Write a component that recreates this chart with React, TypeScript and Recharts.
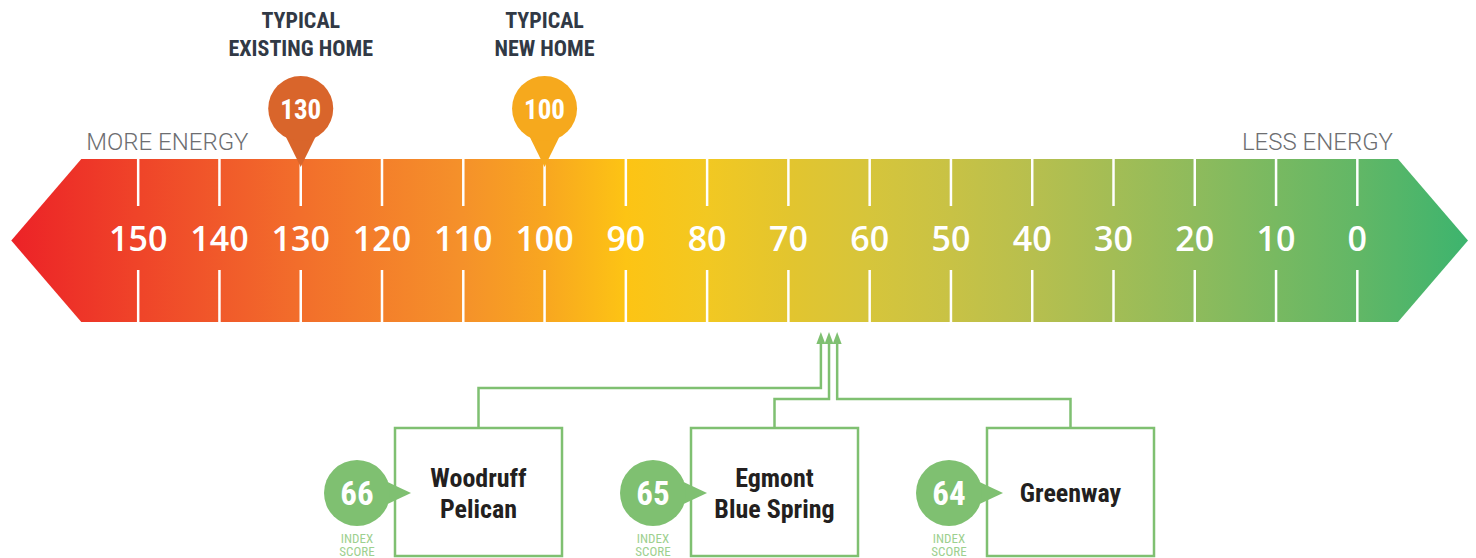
import React from 'react';
import { ComposedChart, XAxis, YAxis, Scatter, ReferenceArea } from 'recharts';

// scale values (HERS index), left = more energy
const SCALE_TICKS = [150, 140, 130, 120, 110, 100, 90, 80, 70, 60, 50, 40, 30, 20, 10, 0];

// benchmark pins above the scale
const BENCHMARK_LABELS = [['TYPICAL', 'EXISTING HOME'], ['TYPICAL', 'NEW HOME']];
const BENCHMARK_VALUES = [130, 100];
const BENCHMARK_COLORS = ['#D9652B', '#F6A91D'];

// communities and their index scores
const HOME_NAMES = [['Woodruff', 'Pelican'], ['Egmont', 'Blue Spring'], ['Greenway']];
const HOME_SCORES = [66, 65, 64];

// layout
const W = 1476;
const H = 558;
const X_DOMAIN: [number, number] = [-14.6, 167];
const BAND_FROM = 157;
const BAND_TO = -5;
const BAND_TOP = 159;
const BAND_BOTTOM = 322;
const LABEL_Y = 239;
const PIN_TIP_Y = 167;
const ARROW_TIP_Y = 332;
const BOX_LEFT = [395, 691, 987];
const BOX_TOP = 428;
const BOX_W = 167;
const BOX_H = 128;
const ELBOW_Y = [388, 399, 399];

const GREEN = '#7FC071';
const NARROW = "'Liberation Sans Narrow', 'Roboto Condensed', 'DejaVu Sans Condensed', sans-serif";

const Band = (p: any) => {
  const { x, y, width, height } = p;
  const tip = 70;
  const mid = y + height / 2;
  const pts = [
    [x - tip, mid], [x, y], [x + width, y], [x + width + tip, mid], [x + width, y + height], [x, y + height],
  ];
  return (
    <g>
      <polygon points={pts.map(q => q.join(',')).join(' ')} fill="url(#hersGrad)" />
      <text x={x + 5} y={y - 9} fontSize={24} fontWeight={300} fontFamily="Roboto" fill="#6D6E71">MORE ENERGY</text>
      <text x={x + width - 5} y={y - 9} textAnchor="end" fontSize={24} fontWeight={300} fontFamily="Roboto" fill="#6D6E71">LESS ENERGY</text>
    </g>
  );
};

const Tick = (p: any) => {
  const { cx, cy, payload } = p;
  return (
    <g>
      <line x1={cx} x2={cx} y1={BAND_TOP} y2={cy - 33} stroke="#fff" strokeWidth={2.5} />
      <line x1={cx} x2={cx} y1={cy + 31} y2={BAND_BOTTOM} stroke="#fff" strokeWidth={2.5} />
      <text x={cx} y={cy + 12} textAnchor="middle" fill="#fff" fontSize={34} fontWeight={600} fontFamily="'Open Sans'">
        {payload.label}
      </text>
    </g>
  );
};

const Pin = (p: any) => {
  const { cx, cy, payload } = p;
  const r = 32.5;
  const c = cy - 58.5;
  return (
    <g>
      <path d={`M ${cx - 15} ${c + 28} L ${cx} ${cy} L ${cx + 15} ${c + 28} Z`} fill={payload.color} />
      <circle cx={cx} cy={c} r={r} fill={payload.color} />
      <text x={cx} y={c + 10} textAnchor="middle" fill="#fff" fontSize={27} fontWeight={700} fontFamily={NARROW}>
        {payload.value}
      </text>
      <text x={cx} y={cy - 139} textAnchor="middle" fill="#313945" fontSize={22} fontWeight={700} fontFamily={NARROW}>
        {payload.lines[0]}
      </text>
      <text x={cx} y={cy - 111} textAnchor="middle" fill="#313945" fontSize={22} fontWeight={700} fontFamily={NARROW}>
        {payload.lines[1]}
      </text>
    </g>
  );
};

const Home = (p: any) => {
  const { cx, cy, payload } = p;
  const i = payload.slot;
  const left = BOX_LEFT[i];
  const mid = left + BOX_W / 2;
  const elbow = ELBOW_Y[i];
  const cyBox = BOX_TOP + BOX_H / 2 + 1;
  const bx = left - 38;
  const lines: string[] = payload.name;
  const first = cyBox + 9 - ((lines.length - 1) * 31) / 2;
  return (
    <g>
      <polyline
        points={`${mid},${BOX_TOP} ${mid},${elbow} ${cx},${elbow} ${cx},${cy + 10}`}
        fill="none"
        stroke={GREEN}
        strokeWidth={2.5}
      />
      <polygon points={`${cx - 4.5},${cy + 12} ${cx},${cy} ${cx + 4.5},${cy + 12}`} fill={GREEN} />
      <rect x={left} y={BOX_TOP} width={BOX_W} height={BOX_H} fill="#fff" stroke={GREEN} strokeWidth={2.5} />
      <polygon points={`${bx + 22},${cyBox - 15} ${left + 16},${cyBox} ${bx + 22},${cyBox + 15}`} fill={GREEN} />
      <circle cx={bx} cy={cyBox} r={33} fill={GREEN} />
      <text x={bx} y={cyBox + 12} textAnchor="middle" fill="#fff" fontSize={33} fontWeight={700} fontFamily={NARROW}>
        {payload.score}
      </text>
      <text x={bx} y={cyBox + 50} textAnchor="middle" fill="#9DD08F" fontSize={13} fontFamily={NARROW}>INDEX</text>
      <text x={bx} y={cyBox + 63} textAnchor="middle" fill="#9DD08F" fontSize={13} fontFamily={NARROW}>SCORE</text>
      {lines.map((t, k) => (
        <text key={k} x={mid} y={first + k * 31} textAnchor="middle" fill="#231F20" fontSize={26} fontWeight={700} fontFamily={NARROW}>
          {t}
        </text>
      ))}
    </g>
  );
};

export default function App() {
  const tickData = SCALE_TICKS.map(v => ({ x: v, y: LABEL_Y, label: String(v) }));
  const pinData = BENCHMARK_VALUES.map((v, i) => ({
    x: v, y: PIN_TIP_Y, value: v, lines: BENCHMARK_LABELS[i], color: BENCHMARK_COLORS[i],
  }));
  const homeData = HOME_SCORES.map((s, i) => ({ x: s, y: ARROW_TIP_Y, score: s, name: HOME_NAMES[i], slot: i }));

  return (
    <div style={{ position: 'absolute', left: 0, top: 0, width: W, height: H, background: '#fff' }}>
      <ComposedChart width={W} height={H} margin={{ top: 0, right: 0, bottom: 0, left: 0 }}>
        <defs>
          <linearGradient id="hersGrad" x1="0" y1="0" x2="1" y2="0">
            <stop offset="0%" stopColor="#EC2227" />
            <stop offset="8.7%" stopColor="#EF4429" />
            <stop offset="19.8%" stopColor="#F26E2B" />
            <stop offset="31%" stopColor="#F5912A" />
            <stop offset="36.6%" stopColor="#F8A620" />
            <stop offset="42.2%" stopColor="#FDC414" />
            <stop offset="47.8%" stopColor="#F2C822" />
            <stop offset="53.2%" stopColor="#E3C52E" />
            <stop offset="58.9%" stopColor="#D6C53B" />
            <stop offset="64.5%" stopColor="#C8C245" />
            <stop offset="70.1%" stopColor="#B7BF4E" />
            <stop offset="75.6%" stopColor="#A3BD55" />
            <stop offset="81.3%" stopColor="#8EBB5C" />
            <stop offset="86.8%" stopColor="#78B961" />
            <stop offset="92.4%" stopColor="#62B766" />
            <stop offset="100%" stopColor="#3DB46E" />
          </linearGradient>
        </defs>
        <XAxis type="number" dataKey="x" domain={X_DOMAIN} reversed hide allowDataOverflow />
        <YAxis type="number" dataKey="y" domain={[0, H]} reversed hide allowDataOverflow />
        <ReferenceArea x1={BAND_FROM} x2={BAND_TO} y1={BAND_TOP} y2={BAND_BOTTOM} shape={Band} ifOverflow="visible" />
        <Scatter data={tickData} shape={Tick} isAnimationActive={false} />
        <Scatter data={pinData} shape={Pin} isAnimationActive={false} />
        <Scatter data={homeData} shape={Home} isAnimationActive={false} />
      </ComposedChart>
    </div>
  );
}
